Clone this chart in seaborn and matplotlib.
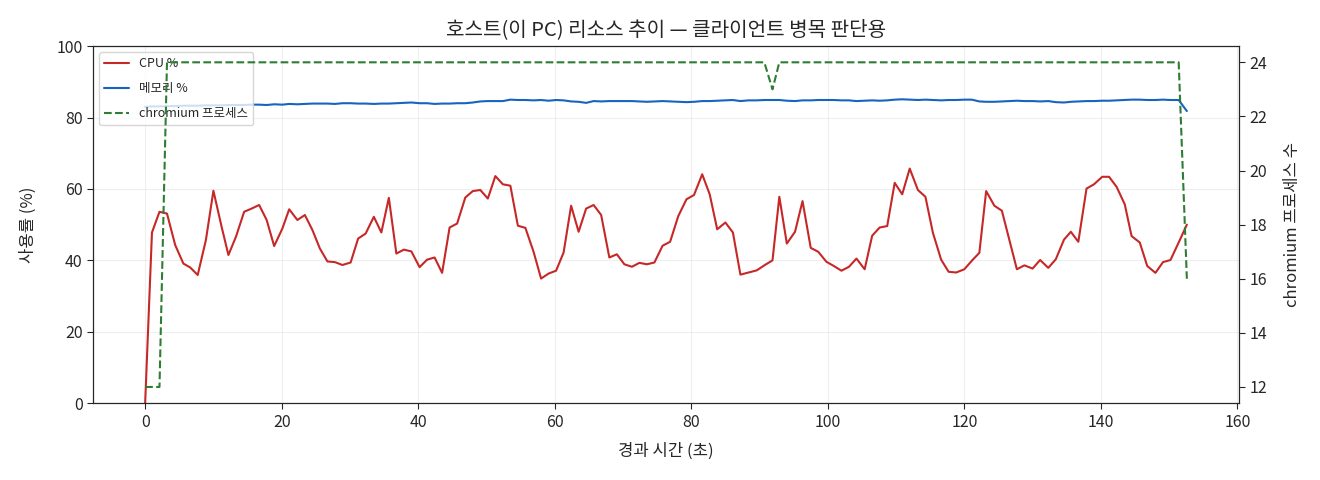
import matplotlib
matplotlib.use("Agg")
import matplotlib.pyplot as plt
import pandas as pd
import seaborn as sns

# elapsed time (s) of each sample
elapsed = [
    0.0, 1.0, 2.1, 3.2, 4.4, 5.6, 6.6, 7.7, 8.9, 10.0,
    11.2, 12.2, 13.3, 14.5, 15.6, 16.7, 17.8, 18.9, 20.1, 21.1,
    22.3, 23.4, 24.5, 25.6, 26.7, 27.8, 28.9, 30.1, 31.2, 32.3,
    33.5, 34.6, 35.7, 36.8, 37.9, 39.0, 40.2, 41.3, 42.4, 43.5,
    44.6, 45.7, 46.9, 48.0, 49.1, 50.2, 51.3, 52.4, 53.5, 54.6,
    55.7, 56.9, 58.0, 59.1, 60.2, 61.3, 62.4, 63.5, 64.6, 65.7,
    66.8, 68.0, 69.1, 70.2, 71.3, 72.4, 73.5, 74.6, 75.8, 76.9,
    78.1, 79.3, 80.4, 81.6, 82.7, 83.8, 85.0, 86.1, 87.2, 88.4,
    89.6, 90.7, 91.9, 92.9, 94.0, 95.2, 96.3, 97.5, 98.6, 99.8,
    100.9, 102.0, 103.1, 104.2, 105.4, 106.5, 107.6, 108.7, 109.8, 110.9,
    112.0, 113.2, 114.3, 115.4, 116.6, 117.7, 118.8, 120.0, 121.1, 122.2,
    123.2, 124.4, 125.5, 126.6, 127.7, 128.8, 130.0, 131.1, 132.3, 133.4,
    134.6, 135.6, 136.7, 137.9, 139.0, 140.2, 141.2, 142.3, 143.5, 144.5,
    145.7, 146.8, 148.0, 149.1, 150.2, 151.4, 152.6,
]

cpu = [
    0.0, 47.8, 53.6, 53.1, 44.3, 39.1, 38.0, 35.9, 45.7, 59.5,
    49.4, 41.5, 46.6, 53.6, 54.5, 55.5, 51.3, 44.0, 48.9, 54.3,
    51.3, 52.7, 48.5, 43.3, 39.7, 39.5, 38.7, 39.4, 46.1, 47.5,
    52.2, 47.8, 57.5, 41.9, 43.0, 42.5, 38.1, 40.2, 40.8, 36.5,
    49.2, 50.3, 57.6, 59.4, 59.7, 57.3, 63.6, 61.3, 60.9, 49.7,
    49.1, 42.4, 34.9, 36.3, 37.1, 42.2, 55.3, 48.0, 54.5, 55.5,
    52.7, 40.8, 41.7, 38.9, 38.2, 39.3, 38.9, 39.4, 44.1, 45.2,
    52.4, 57.1, 58.3, 64.1, 58.5, 48.7, 50.6, 47.8, 36.0, 36.6,
    37.2, 38.6, 40.0, 57.8, 44.7, 48.0, 56.6, 43.5, 42.4, 39.6,
    38.4, 37.1, 38.2, 40.5, 37.5, 46.9, 49.2, 49.6, 61.7, 58.5,
    65.7, 59.7, 57.8, 47.7, 40.2, 36.8, 36.6, 37.5, 39.9, 42.1,
    59.4, 55.3, 53.9, 45.7, 37.5, 38.6, 37.7, 40.1, 37.9, 40.3,
    45.8, 48.0, 45.2, 60.1, 61.3, 63.4, 63.4, 60.6, 55.7, 46.8,
    45.0, 38.4, 36.5, 39.5, 40.1, 45.0, 50.0,
]

memory = [
    83.0, 83.1, 83.1, 83.2, 83.2, 83.3, 83.3, 83.3, 83.4, 83.4,
    83.4, 83.5, 83.5, 83.5, 83.6, 83.6, 83.5, 83.7, 83.6, 83.8,
    83.7, 83.8, 83.9, 83.9, 83.9, 83.8, 84.0, 84.0, 83.9, 83.9,
    83.8, 83.9, 83.9, 84.0, 84.1, 84.2, 84.0, 84.0, 83.8, 83.9,
    83.9, 84.0, 84.0, 84.2, 84.5, 84.6, 84.6, 84.6, 85.0, 84.9,
    84.9, 84.8, 84.9, 84.7, 84.9, 84.8, 84.5, 84.4, 84.1, 84.6,
    84.5, 84.6, 84.6, 84.6, 84.6, 84.5, 84.4, 84.5, 84.6, 84.5,
    84.4, 84.3, 84.4, 84.6, 84.6, 84.7, 84.8, 84.9, 84.6, 84.8,
    84.8, 84.9, 84.9, 84.9, 84.7, 84.6, 84.8, 84.8, 84.9, 84.9,
    84.9, 84.8, 84.8, 84.6, 84.7, 84.8, 84.7, 84.8, 85.0, 85.1,
    85.0, 84.9, 85.0, 84.9, 84.8, 84.9, 84.9, 85.0, 85.0, 84.5,
    84.4, 84.4, 84.5, 84.6, 84.7, 84.6, 84.6, 84.5, 84.6, 84.3,
    84.2, 84.4, 84.5, 84.6, 84.6, 84.7, 84.7, 84.8, 84.9, 85.0,
    85.0, 84.9, 84.9, 85.0, 84.9, 84.9, 81.8,
]

# chromium process count, written as runs of equal readings
procs = [12] * 3 + [24] * 79 + [23] + [24] * 53 + [16]

df = pd.DataFrame({"t": elapsed, "cpu": cpu, "mem": memory, "procs": procs})

sns.set_style("white")
plt.rcParams["font.family"] = ["Noto Sans CJK KR", "DejaVu Sans"]
plt.rcParams["axes.unicode_minus"] = False

fig, ax = plt.subplots(figsize=(13.2, 4.8), dpi=100)
fig.subplots_adjust(left=0.0705, right=0.9386, top=0.904, bottom=0.160)

sns.lineplot(data=df, x="t", y="cpu", ax=ax, color="#c62828", lw=1.5, label="CPU %")
sns.lineplot(data=df, x="t", y="mem", ax=ax, color="#1565c0", lw=1.5, label="메모리 %")
ax.set_ylim(0, 100)
ax.set_xlabel("경과 시간 (초)", fontsize=12, labelpad=9)
ax.set_ylabel("사용률 (%)", fontsize=12, labelpad=14)
ax.grid(True, alpha=0.3)
ax.tick_params(axis="both", which="both", direction="out", length=4, labelsize=11.5,
               bottom=True, left=True)
for s in ax.spines.values():
    s.set_color("black")

ax2 = ax.twinx()
sns.lineplot(data=df, x="t", y="procs", ax=ax2, color="#2e7d32", lw=1.5,
             linestyle="--", label="chromium 프로세스")
ax2.set_ylabel("chromium 프로세스 수", fontsize=12, labelpad=12)
ax2.tick_params(axis="y", direction="out", length=4, labelsize=11.5, right=True)
ax2.set_yticks([12, 14, 16, 18, 20, 22, 24])

h1, l1 = ax.get_legend_handles_labels()
h2, l2 = ax2.get_legend_handles_labels()
ax2.get_legend().remove()
ax.legend(h1 + h2, l1 + l2, loc="upper left", fontsize=9, labelspacing=0.95,
          frameon=True)

ax.set_title("호스트(이 PC) 리소스 추이 — 클라이언트 병목 판단용", fontsize=14.5, pad=8)

fig.savefig("out.png", dpi=100)
